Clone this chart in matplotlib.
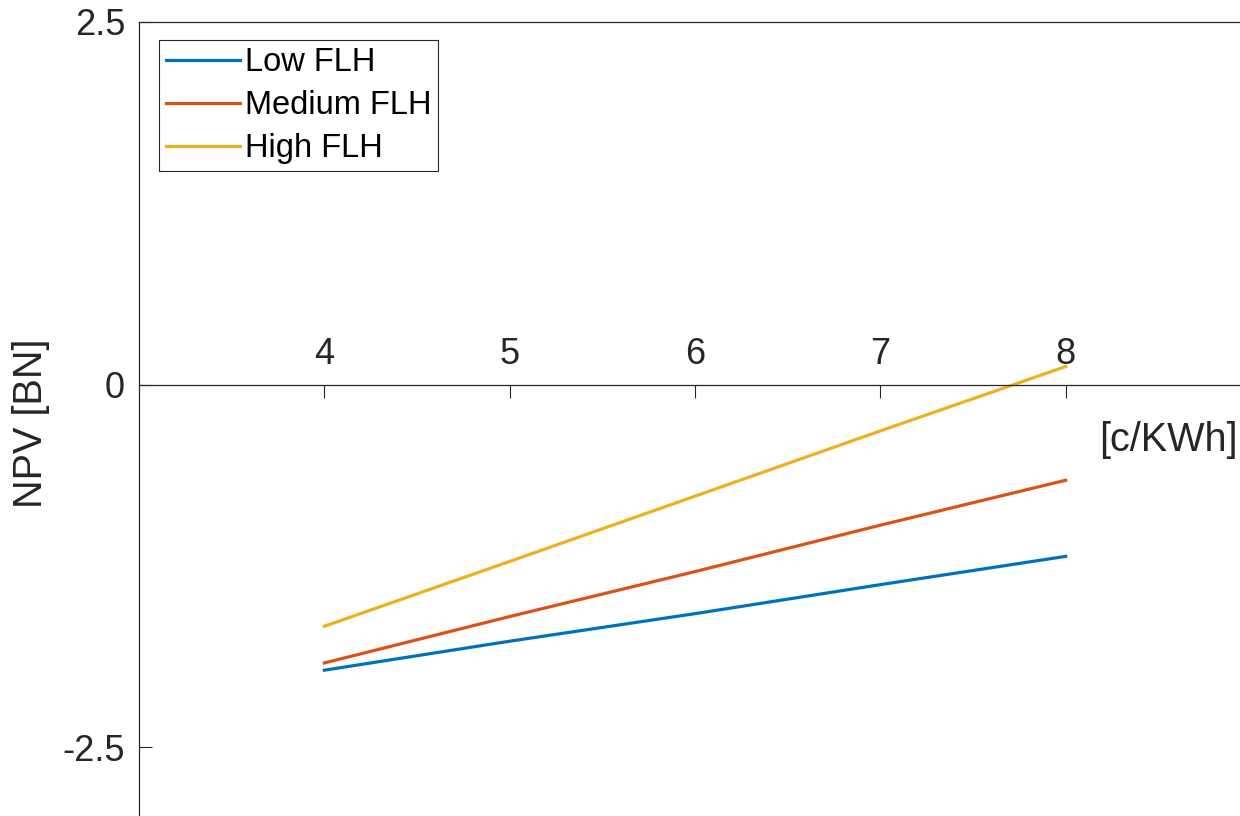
import numpy as np
import matplotlib.pyplot as plt

plt.rcParams['font.family'] = ['Liberation Sans', 'DejaVu Sans']

price = [4, 5, 6, 7, 8]
low_flh = [-1.97, -1.77, -1.58, -1.38, -1.185]
medium_flh = [-1.92, -1.60, -1.29, -0.97, -0.66]
high_flh = [-1.667, -1.22, -0.77, -0.32, 0.124]
labels = ["Low FLH", "Medium FLH", "High FLH"]
colors = ["#0072BD", "#D95319", "#EDB120"]

fig = plt.figure(figsize=[12.4, 8.16], dpi=100)
ax = fig.add_axes([139/1240, -0.0044, 1112/1240, 0.9775])

for vals, lab, c in zip([low_flh, medium_flh, high_flh], labels, colors):
    ax.plot(price, vals, "-", color=c, lw=2.3, label=lab)

ax.set_xlim(3, 9)
ax.set_ylim(-3, 2.5)
ax.set_xticks(price)
ax.set_yticks([-2.5, 0, 2.5])
ax.set_yticklabels(["-2.5", "0", "2.5"])

ax.spines["bottom"].set_position(("data", 0))
ax.spines["right"].set_visible(False)
for s in ax.spines.values():
    s.set_color("#262626")
    s.set_linewidth(0.9)

ax.tick_params(axis="x", direction="out", length=9.5, width=0.8, pad=-44,
               labelsize=26, colors="#262626")
ax.tick_params(axis="y", direction="in", length=9.5, width=0.8, pad=10,
               labelsize=26, colors="#262626")

ax.set_ylabel("NPV [BN]", fontsize=28.5, color="#262626")
ax.yaxis.set_label_coords(-0.08, 0.497)
ax.set_xlabel("[c/KWh]", fontsize=28.5, color="#262626")
ax.xaxis.set_label_coords(0.926, 0.5)

leg = ax.legend(loc="upper left", bbox_to_anchor=(0.018, 0.977), borderaxespad=0,
                fontsize=23.5, fancybox=False, handlelength=2.25, handletextpad=0.15,
                labelspacing=0.36, borderpad=0.22, framealpha=1)
leg.get_frame().set_edgecolor("#262626")
leg.get_frame().set_linewidth(0.8)

plt.savefig("out.png", dpi=100)
